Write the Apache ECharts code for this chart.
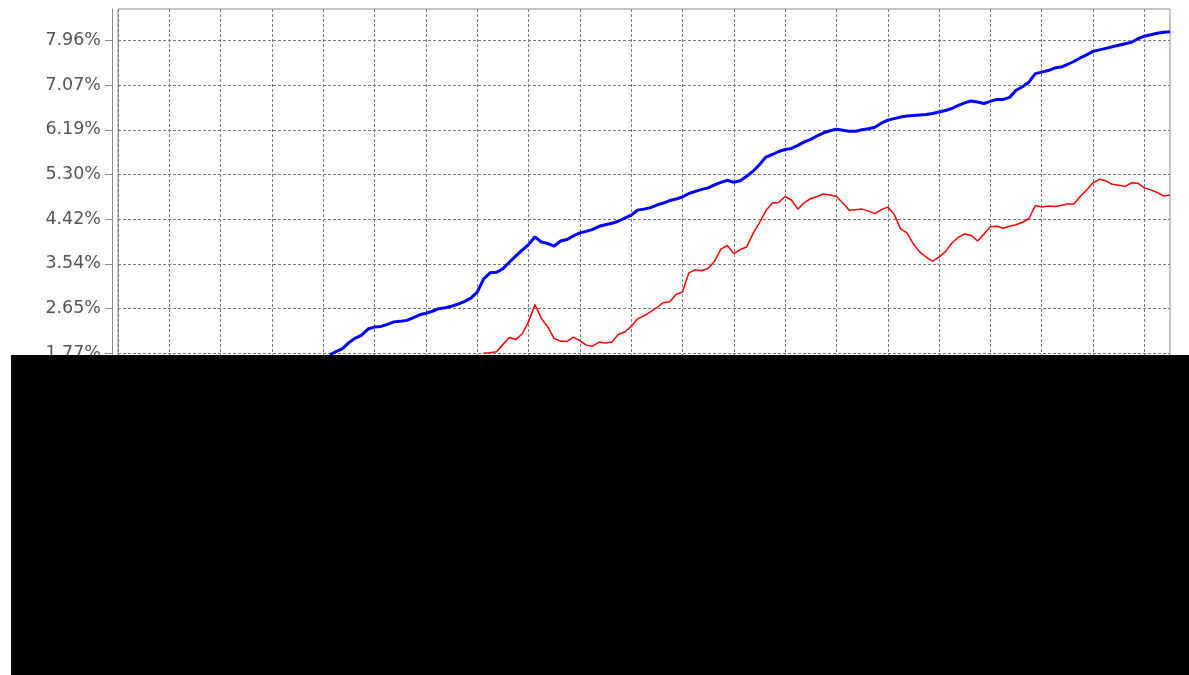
<!DOCTYPE html>
<html>
<head>
<meta charset="utf-8">
<script src="https://cdn.jsdelivr.net/npm/echarts@6/dist/echarts.min.js"></script>
<style>
  html, body { margin: 0; padding: 0; background: #ffffff; }
  #chart { width: 1189px; height: 675px; }
</style>
</head>
<body>
<div id="chart"></div>
<script>
// Y-axis tick values (percent) and their printed labels
const yTickValues = [-3.536, -2.652, -1.768, -0.884, 0, 0.884, 1.768, 2.652, 3.536, 4.42, 5.304, 6.188, 7.072, 7.956];
const yInterval = 0.884;

// Number of sample steps along x (8 steps per vertical grid interval, 20.5 intervals)
const stepCount = 165;

// Portions of both lines below ~1.77% are hidden in the reference (black panel); they are left empty.
const blueHiddenCount = 33;
const blueValues = [
  1.74, 1.80, 1.86, 1.98, 2.07, 2.13, 2.25, 2.29, 2.30, 2.34,
  2.39, 2.40, 2.42, 2.47, 2.53, 2.56, 2.60, 2.65, 2.67, 2.70,
  2.74, 2.79, 2.86, 2.98, 3.24, 3.36, 3.37, 3.44, 3.57, 3.69,
  3.81, 3.92, 4.07, 3.97, 3.94, 3.89, 3.99, 4.02, 4.09, 4.15,
  4.18, 4.22, 4.28, 4.31, 4.34, 4.38, 4.44, 4.50, 4.60, 4.62,
  4.65, 4.70, 4.74, 4.79, 4.82, 4.86, 4.93, 4.97, 5.01, 5.04,
  5.10, 5.15, 5.19, 5.15, 5.18, 5.27, 5.37, 5.50, 5.65, 5.70,
  5.76, 5.80, 5.82, 5.88, 5.95, 6.00, 6.07, 6.13, 6.17, 6.20,
  6.18, 6.16, 6.16, 6.19, 6.21, 6.24, 6.32, 6.38, 6.41, 6.44,
  6.46, 6.47, 6.48, 6.49, 6.51, 6.54, 6.57, 6.61, 6.67, 6.72,
  6.76, 6.74, 6.71, 6.75, 6.79, 6.79, 6.83, 6.97, 7.04, 7.13,
  7.30, 7.33, 7.36, 7.41, 7.43, 7.48, 7.54, 7.61, 7.67, 7.74,
  7.77, 7.80, 7.83, 7.86, 7.89, 7.92, 7.99, 8.04, 8.07, 8.10,
  8.12, 8.13
];

const redHiddenCount = 57;
const redValues = [
  1.77, 1.78, 1.80, 1.94, 2.08, 2.04, 2.15, 2.39, 2.73, 2.46,
  2.29, 2.06, 2.01, 2.00, 2.09, 2.02, 1.93, 1.91, 1.99, 1.97,
  1.99, 2.14, 2.19, 2.30, 2.45, 2.51, 2.59, 2.67, 2.77, 2.79,
  2.93, 2.98, 3.36, 3.42, 3.40, 3.45, 3.59, 3.83, 3.90, 3.74,
  3.82, 3.87, 4.14, 4.35, 4.59, 4.74, 4.75, 4.87, 4.80, 4.62,
  4.75, 4.83, 4.87, 4.92, 4.90, 4.87, 4.74, 4.60, 4.61, 4.62,
  4.58, 4.53, 4.61, 4.66, 4.52, 4.23, 4.15, 3.93, 3.77, 3.67,
  3.59, 3.67, 3.78, 3.95, 4.06, 4.13, 4.10, 3.99, 4.13, 4.27,
  4.28, 4.24, 4.28, 4.31, 4.36, 4.43, 4.69, 4.66, 4.68, 4.67,
  4.69, 4.72, 4.72, 4.87, 5.00, 5.14, 5.21, 5.18, 5.11, 5.09,
  5.07, 5.14, 5.13, 5.04, 5.00, 4.95, 4.88, 4.90
];

const categories = [];
for (let i = 0; i < stepCount; i++) categories.push(String(i));

function pad(hidden, values) {
  return new Array(hidden).fill(null).concat(values);
}

const chart = echarts.init(document.getElementById('chart'), null, { renderer: 'canvas' });

chart.setOption({
  animation: false,
  backgroundColor: '#ffffff',
  grid: {
    left: 118, right: 19, top: 9, bottom: 53.5,
    show: true, borderColor: '#8a8a8a', borderWidth: 1, backgroundColor: '#ffffff',
    containLabel: false
  },
  xAxis: {
    type: 'category',
    data: categories,
    boundaryGap: false,
    axisLine: { show: false },
    axisTick: { show: false },
    axisLabel: { show: false },
    splitLine: {
      show: true,
      interval: 7,
      lineStyle: { color: '#7a7a7a', width: 1, type: [3, 2] }
    }
  },
  yAxis: {
    type: 'value',
    min: -3.536,
    max: 8.578,
    interval: yInterval,
    offset: 6,
    axisLine: { show: true, lineStyle: { color: '#8a8a8a', width: 1 } },
    axisTick: { show: true, length: 7, customValues: yTickValues, lineStyle: { color: '#8a8a8a' } },
    axisLabel: {
      customValues: yTickValues,
      margin: 11,
      color: '#555555',
      fontFamily: 'DejaVu Sans',
      fontSize: 17.5,
      formatter: function (v) { return v.toFixed(2) + '%'; }
    },
    splitLine: {
      show: true,
      lineStyle: { color: '#7a7a7a', width: 1, type: [3, 2] }
    }
  },
  series: [
    {
      name: 'blue',
      type: 'line',
      data: pad(blueHiddenCount, blueValues),
      showSymbol: false,
      symbol: 'none',
      connectNulls: false,
      lineStyle: { color: '#0000ff', width: 3 },
      z: 3
    },
    {
      name: 'red',
      type: 'line',
      data: pad(redHiddenCount, redValues),
      showSymbol: false,
      symbol: 'none',
      connectNulls: false,
      lineStyle: { color: '#ff0000', width: 1.5 },
      z: 4
    }
  ],
  graphic: [
    {
      type: 'rect',
      left: 11, top: 355,
      shape: { width: 1178, height: 320 },
      style: { fill: '#000000' },
      z: 100
    }
  ]
});
</script>
</body>
</html>
